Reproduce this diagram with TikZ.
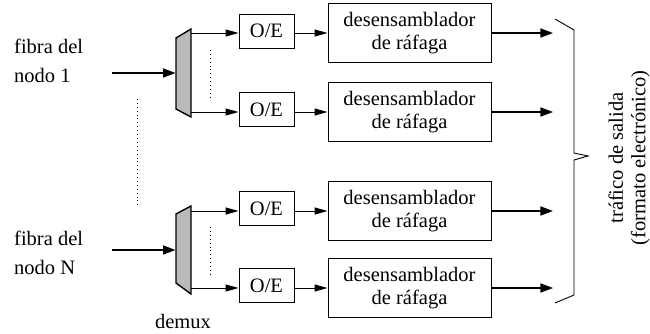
\documentclass[tikz,border=0pt]{standalone}
\usepackage{fontspec}
\setmainfont{Liberation Serif}
\usetikzlibrary{arrows.meta}
\begin{document}
\begin{tikzpicture}[x=1pt,y=-1pt,
  txt/.style={inner sep=0pt,font=\fontsize{20.5}{28.5}\selectfont,align=left},
  oebox/.style={draw,line width=0.9pt,minimum width=55pt,minimum height=34pt,inner sep=0pt,font=\fontsize{20.5}{23.5}\selectfont},
  desbox/.style={draw,line width=0.9pt,minimum width=163pt,minimum height=59pt,inner sep=0pt,align=center,font=\fontsize{20.5}{23.5}\selectfont},
  demuxshape/.style={draw,line width=1.4pt,fill=black!27,line join=miter},
  thin arrow/.style={line width=0.9pt,-{Triangle[length=13pt,width=7pt]}},
  thick arrow/.style={line width=2.8pt,-{Triangle[length=13pt,width=8.5pt]}},
  dots/.style={line width=0.9pt,dash pattern=on 0.9pt off 3pt},
]
\useasboundingbox (0,0) rectangle (650,334);

% fibre labels
\node[txt,anchor=north west] (f1) at (14,39) {fibra del\\nodo 1};
\node[txt,anchor=north west] (fN) at (14,231) {fibra del\\nodo N};

% demultiplexers
\draw[demuxshape] (176,38) -- (191,29) -- (191,117) -- (176,109) -- cycle;
\draw[demuxshape] (176,214) -- (191,206) -- (191,294) -- (176,283) -- cycle;
\node[txt,anchor=base] (dmx) at (183,328) {demux};

\coordinate (in1) at (112,73);   \coordinate (dm1in) at (176,73);
\coordinate (inN) at (112,250);  \coordinate (dm2in) at (176,250);
\coordinate (o1) at (191,33);    \coordinate (o2) at (191,112);
\coordinate (o3) at (191,211);   \coordinate (o4) at (191,288);

% O/E converters
\node[oebox] (oe1) at (266.5,31) {O/E};
\node[oebox] (oe2) at (266.5,109.5) {O/E};
\node[oebox] (oe3) at (266.5,208.5) {O/E};
\node[oebox] (oe4) at (266.5,285.5) {O/E};

% burst disassemblers
\node[desbox] (d1) at (409.5,33) {desensamblador\\de ráfaga};
\node[desbox] (d2) at (409.5,112) {desensamblador\\de ráfaga};
\node[desbox] (d3) at (409.5,211) {desensamblador\\de ráfaga};
\node[desbox] (d4) at (409.5,288) {desensamblador\\de ráfaga};

% inputs
\draw[thick arrow] (in1) -- (dm1in);
\draw[thick arrow] (inN) -- (dm2in);

% demux outputs to O/E
\foreach \o/\e in {o1/oe1,o2/oe2,o3/oe3,o4/oe4}
  \draw[thin arrow] (\o) -- (\e.west |- \o);

% O/E to disassemblers
\foreach \e/\d in {oe1/d1,oe2/d2,oe3/d3,oe4/d4}
  \draw[thin arrow] (\e.east |- \d) -- (\d.west);

% electronic outputs
\foreach \d in {d1,d2,d3,d4}
  \draw[thick arrow] (\d.east) -- ++(62,0);

% ellipsis dots
\draw[dots] (210,50) -- (210,97);
\draw[dots] (210,227) -- (210,274);
\draw[dots] (137,99) -- (137,205);

% brace
\draw[line width=0.9pt,line join=miter]
  (555,19) -- (574,30) -- (574,153) -- (588,156) -- (574,160) -- (574,295) -- (555,303);
\node[inner sep=0pt,rotate=90,align=center,font=\fontsize{20.5}{22.5}\selectfont]
  (lab) at (629,158) {tráfico de salida\\(formato electrónico)};
\end{tikzpicture}
\end{document}
